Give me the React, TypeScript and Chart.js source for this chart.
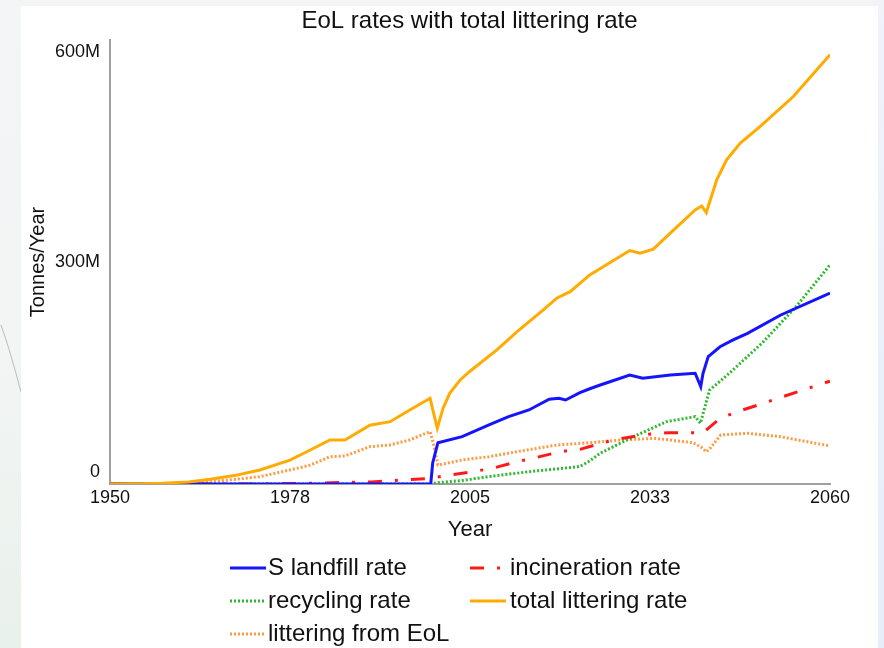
import React, { useEffect, useRef } from "react";
import { Chart, registerables } from "chart.js";

Chart.register(...registerables);

const TITLE = "EoL rates with total littering rate";
const X_TITLE = "Year";
const Y_TITLE = "Tonnes/Year";
const X_TICKS = [1950, 1977.5, 2005, 2032.5, 2060];
const Y_TICKS = [0, 300, 600]; // millions of tonnes

// S landfill rate (M tonnes / year)
const landfillYears = [1950, 1999.0, 1999.3, 2000.1, 2003.8, 2007.9, 2010.9, 2014.0, 2017.1, 2018.6, 2019.6, 2021.8, 2023.3, 2024.9, 2029.4, 2031.4, 2035.6, 2039.4, 2040.25, 2040.6, 2041.4, 2043.2, 2045.2, 2047.4, 2052.4, 2060];
const landfillValues = [0, 0, 30, 59, 67.6, 84.3, 96.2, 105.7, 121, 122.4, 120, 130.5, 136, 141.4, 155.7, 151, 155.7, 158.1, 139, 158, 182, 196, 205.7, 215, 241, 272.4];

// incineration rate
const incinerationYears = [1950, 1975, 1980, 1990, 1998.9, 2001.9, 2005.4, 2008.4, 2012.2, 2015.2, 2018.8, 2021.8, 2026.9, 2032.1, 2035.2, 2040.6, 2043.2, 2046.3, 2049.8, 2052.8, 2055.9, 2060];
const incinerationValues = [0, 0, 1, 3, 8, 12.9, 17.6, 22.4, 31.9, 38, 46.2, 49.5, 62.9, 71, 73.3, 73.3, 93.8, 104.7, 115.2, 124.7, 134.3, 147];

// recycling rate
const recyclingYears = [1950, 1999, 2000.1, 2003.8, 2007.9, 2014.0, 2019.2, 2021.8, 2023.3, 2024.9, 2030.0, 2035.0, 2039.4, 2040.2, 2041.6, 2044.6, 2049.6, 2054.8, 2060];
const recyclingValues = [0, 0, 1.9, 5, 10.5, 17.6, 22.4, 25, 33, 44, 67.6, 89, 96.2, 86.7, 134, 158, 201, 253, 312.9];

// total littering rate
const totalYears = [1950, 1955, 1958, 1962, 1965.3, 1969, 1972.9, 1977.5, 1980.6, 1983.6, 1985.9, 1989.7, 1992.8, 1995.8, 1998.9, 2000.0, 2000.9, 2001.9, 2003.5, 2005.0, 2009.1, 2012.2, 2016.2, 2018.3, 2020.3, 2023.3, 2029.4, 2031.0, 2033.0, 2035.6, 2039.4, 2040.4, 2041.1, 2042.7, 2044.2, 2046.3, 2049.3, 2054.4, 2060];
const totalValues = [0, 0.3, 1, 3, 6.7, 12, 20, 34, 48.6, 62.9, 62.9, 84, 89, 105.7, 122.4, 79.6, 108.6, 129.5, 148.6, 161, 191.4, 217.6, 248.6, 265.7, 274.7, 298.6, 333.3, 329.6, 335.3, 358.1, 391.4, 397.1, 387.6, 434.3, 462.9, 486.7, 510.4, 553.3, 612.9];

// littering from EoL
const eolYears = [1950, 1958, 1962, 1965.3, 1969, 1972.9, 1977.5, 1980.6, 1983.6, 1985.9, 1989.7, 1992.8, 1995.8, 1998.9, 1999.4, 2000.1, 2003.8, 2007.9, 2012.2, 2018.3, 2023.3, 2028.2, 2033.3, 2036.3, 2039.1, 2040.4, 2041.1, 2041.6, 2043.3, 2047.4, 2052.4, 2060];
const eolValues = [0, 0.3, 1.5, 3.3, 6.5, 10.5, 20, 27, 39, 40, 53.3, 55.7, 62.9, 74.8, 58, 27, 34.3, 39, 46.2, 55.7, 59, 62.9, 65.2, 61.9, 59, 52, 46, 50, 70, 72.4, 67.6, 54.3];

const FONT = "'Liberation Sans', Arial, sans-serif";

type Series = {
  label: string;
  years: number[];
  values: number[];
  color: string;
  dash: number[];
  width: number;
};

const SERIES: Series[] = [
  { label: "total littering rate", years: totalYears, values: totalValues, color: "#ffab00", dash: [], width: 3 },
  { label: "S landfill rate", years: landfillYears, values: landfillValues, color: "#1414ff", dash: [], width: 3 },
  { label: "incineration rate", years: incinerationYears, values: incinerationValues, color: "#ff1a1a", dash: [14, 13, 3, 13], width: 3 },
  { label: "recycling rate", years: recyclingYears, values: recyclingValues, color: "#2db82d", dash: [2, 2], width: 3 },
  { label: "littering from EoL", years: eolYears, values: eolValues, color: "#ff9a40", dash: [2, 2], width: 3 },
];

const LEGEND_ORDER = ["S landfill rate", "incineration rate", "recycling rate", "total littering rate", "littering from EoL"];

const overlayPlugin = {
  id: "overlay",
  afterDraw(chart: any) {
    const ctx = chart.ctx as CanvasRenderingContext2D;
    ctx.save();
    ctx.fillStyle = "#111";
    ctx.font = `24px ${FONT}`;
    ctx.textAlign = "center";
    ctx.textBaseline = "middle";
    ctx.fillText(TITLE, 469.5, 21);

    const colX = [230, 470];
    const rowY = [568, 601, 634];
    LEGEND_ORDER.forEach((label, i) => {
      const s = SERIES.find((d) => d.label === label)!;
      const col = i % 2;
      const row = Math.floor(i / 2);
      const x0 = colX[col];
      const y = rowY[row];
      ctx.beginPath();
      ctx.setLineDash(s.dash);
      ctx.lineDashOffset = 0;
      ctx.strokeStyle = s.color;
      ctx.lineWidth = s.width;
      ctx.lineCap = "butt";
      ctx.moveTo(x0, y);
      ctx.lineTo(x0 + 36, y);
      ctx.stroke();
      ctx.setLineDash([]);
      ctx.fillStyle = "#111";
      ctx.font = `24px ${FONT}`;
      ctx.textAlign = "left";
      ctx.textBaseline = "middle";
      ctx.fillText(label, x0 + (col === 0 ? 38 : 40), y);
    });
    ctx.restore();
  },
};

export default function App() {
  const ref = useRef<HTMLCanvasElement | null>(null);

  useEffect(() => {
    document.body.style.margin = "0";
    const canvas = ref.current;
    if (!canvas) return;
    const chart = new Chart(canvas, {
      type: "line",
      data: {
        datasets: SERIES.map((s) => ({
          label: s.label,
          data: s.years.map((x, i) => ({ x, y: s.values[i] })),
          borderColor: s.color,
          backgroundColor: s.color,
          borderWidth: s.width,
          borderDash: s.dash,
          borderCapStyle: "butt",
          pointRadius: 0,
          tension: 0,
          fill: false,
        })),
      },
      options: {
        animation: false,
        responsive: false,
        maintainAspectRatio: false,
        layout: { padding: { left: 0, right: 54, top: 40, bottom: 99 } },
        plugins: {
          legend: { display: false },
          title: { display: false },
          tooltip: { enabled: false },
        },
        scales: {
          x: {
            type: "linear",
            min: 1950,
            max: 2060,
            afterBuildTicks: (s: any) => {
              s.ticks = X_TICKS.map((v) => ({ value: v }));
            },
            afterFit: (s: any) => {
              s.height = 65;
            },
            grid: { display: false, drawTicks: false },
            border: { display: true, color: "#a0a0a0", width: 2 },
            ticks: {
              padding: 3,
              color: "#111",
              font: { family: FONT, size: 18 },
              maxRotation: 0,
              autoSkip: false,
              callback: (v: any) => String(Math.round(Number(v))),
            },
            title: {
              display: true,
              text: X_TITLE,
              color: "#111",
              font: { family: FONT, size: 22 },
              padding: { top: 0, bottom: 6 },
            },
          },
          y: {
            type: "linear",
            min: 0,
            max: 634,
            afterBuildTicks: (s: any) => {
              s.ticks = Y_TICKS.map((v) => ({ value: v }));
            },
            afterFit: (s: any) => {
              s.width = 110;
            },
            grid: { display: false, drawTicks: false },
            border: { display: true, color: "#a0a0a0", width: 2 },
            ticks: {
              padding: 10,
              labelOffset: -12,
              color: "#111",
              font: { family: FONT, size: 18 },
              callback: (v: any) => (Number(v) === 0 ? "0" : `${v}M`),
            },
            title: {
              display: true,
              text: Y_TITLE,
              color: "#111",
              font: { family: FONT, size: 20 },
              padding: { top: 26, bottom: 0 },
            },
          },
        },
      },
      plugins: [overlayPlugin],
    } as any);
    return () => chart.destroy();
  }, []);

  return (
    <div
      style={{
        position: "relative",
        width: 884,
        height: 648,
        overflow: "hidden",
        background: "#f3f4f6",
      }}
    >
      <div
        style={{
          position: "absolute",
          left: 0,
          top: 0,
          width: 21,
          height: 648,
          background: "linear-gradient(#f4f5f6, #f3f5f5 50%, #e9f1ec)",
        }}
      />
      <div
        style={{
          position: "absolute",
          left: 878,
          top: 0,
          width: 6,
          height: 648,
          background: "linear-gradient(#f0f3f8, #e6eefa)",
        }}
      />
      <svg width={21} height={648} style={{ position: "absolute", left: 0, top: 0 }}>
        <path d="M 1 325 Q 10 350 21 392" stroke="#b9bdbd" strokeWidth={1} fill="none" />
      </svg>
      <div
        style={{
          position: "absolute",
          left: 21,
          top: 6,
          width: 857,
          height: 642,
          background: "#ffffff",
        }}
      />
      <canvas
        ref={ref}
        width={884}
        height={648}
        style={{ position: "absolute", left: 0, top: 0, width: 884, height: 648 }}
      />
    </div>
  );
}
